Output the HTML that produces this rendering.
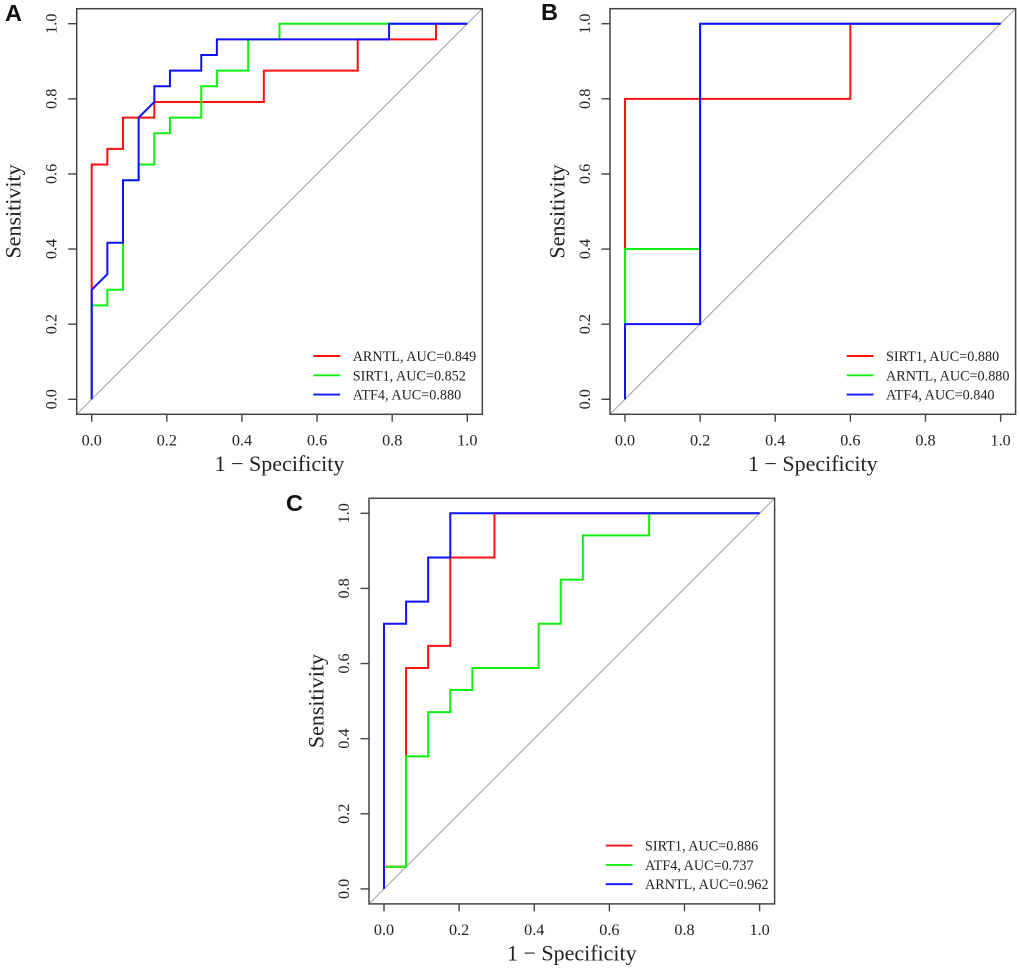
<!DOCTYPE html>
<html lang="en">
<head>
<meta charset="utf-8">
<title>ROC curves</title>
<style>
html,body{margin:0;padding:0;background:#fff;width:1020px;height:969px;overflow:hidden}
svg{display:block;position:absolute;left:0;top:0;filter:blur(0.35px)}
text{font-family:"Liberation Serif",serif;fill:#222}
.panel-letter{font-family:"Liberation Sans",sans-serif;font-weight:700;font-size:23.5px;fill:#111}
</style>
</head>
<body>
<svg id="fig" width="1020" height="969" viewBox="0 0 1020 969" xmlns="http://www.w3.org/2000/svg"></svg>
<script>
// ---- Tick labels ----
const tickValues = [0, 0.2, 0.4, 0.6, 0.8, 1];
const tickLabels = ["0.0", "0.2", "0.4", "0.6", "0.8", "1.0"];

// ---- Panel A ----
const aArntlFpr = [0,0,0.0417,0.0417,0.0833,0.0833,0.1667,0.1667,0.4583,0.4583,0.7083,0.7083,0.9167,0.9167,1];
const aArntlTpr = [0,0.625,0.625,0.6667,0.6667,0.75,0.75,0.7917,0.7917,0.875,0.875,0.9583,0.9583,1,1];
const aSirt1Fpr = [0,0,0.0417,0.0417,0.0833,0.0833,0.125,0.125,0.1667,0.1667,0.2083,0.2083,0.2917,0.2917,0.3333,0.3333,0.4167,0.4167,0.5,0.5,1];
const aSirt1Tpr = [0,0.25,0.25,0.2917,0.2917,0.5833,0.5833,0.625,0.625,0.7083,0.7083,0.75,0.75,0.8333,0.8333,0.875,0.875,0.9583,0.9583,1,1];
const aAtf4Fpr = [0,0,0.0417,0.0417,0.0833,0.0833,0.125,0.125,0.1667,0.1667,0.2083,0.2083,0.2917,0.2917,0.3333,0.3333,0.7917,0.7917,1];
const aAtf4Tpr = [0,0.2917,0.3333,0.4167,0.4167,0.5833,0.5833,0.75,0.7917,0.8333,0.8333,0.875,0.875,0.9167,0.9167,0.9583,0.9583,1,1];

// ---- Panel B ----
const bSirt1Fpr = [0,0,0.6,0.6,1];
const bSirt1Tpr = [0,0.8,0.8,1,1];
const bArntlFpr = [0,0,0.2,0.2,1];
const bArntlTpr = [0,0.4,0.4,1,1];
const bAtf4Fpr = [0,0,0.2,0.2,1];
const bAtf4Tpr = [0,0.2,0.2,1,1];

// ---- Panel C ----
const cSirt1Fpr = [0,0,0.0588,0.0588,0.1176,0.1176,0.1765,0.1765,0.2941,0.2941,1];
const cSirt1Tpr = [0,0.0588,0.0588,0.5882,0.5882,0.6471,0.6471,0.8824,0.8824,1,1];
const cAtf4Fpr = [0,0,0.0588,0.0588,0.1176,0.1176,0.1765,0.1765,0.2353,0.2353,0.4118,0.4118,0.4706,0.4706,0.5294,0.5294,0.7059,0.7059,1];
const cAtf4Tpr = [0,0.0588,0.0588,0.3529,0.3529,0.4706,0.4706,0.5294,0.5294,0.5882,0.5882,0.7059,0.7059,0.8235,0.8235,0.9412,0.9412,1,1];
const cArntlFpr = [0,0,0.0588,0.0588,0.1176,0.1176,0.1765,0.1765,1];
const cArntlTpr = [0,0.7059,0.7059,0.7647,0.7647,0.8824,0.8824,1,1];

const colors = ["#ff1010", "#10f010", "#1010ff"];
const NS = "http://www.w3.org/2000/svg";
const fig = document.getElementById("fig");

function make(parent, tag, attrs, txt) {
  const el = document.createElementNS(NS, tag);
  for (const k in attrs) el.setAttribute(k, attrs[k]);
  if (txt !== undefined) el.textContent = txt;
  parent.appendChild(el);
  return el;
}

function drawPanel(p) {
  const W = 405.6, H = 405.6, pad = 15;
  const span = W - 2 * pad;
  const sx = v => p.left + pad + v * span;
  const sy = v => p.top + H - pad - v * span;

  const g = make(fig, "g", {});
  
  

  const letter = make(g, "text", {x: p.letterX, y: p.letterY, "class": "panel-letter"}, p.id.toUpperCase());
  
  

  const diag = make(g, "line", {x1: p.left, y1: p.top + H, x2: p.left + W, y2: p.top, stroke: "#a0a0a0", "stroke-width": 1});
  
  

  p.series.forEach((s, i) => {
    const pts = s.fpr.map((f, j) => sx(f).toFixed(2) + "," + sy(s.tpr[j]).toFixed(2)).join(" ");
    const line = make(g, "polyline", {points: pts, fill: "none", stroke: colors[i], "stroke-width": 2, "stroke-linejoin": "miter"});
    
    
  });

  const box = make(g, "rect", {x: p.left, y: p.top, width: W, height: H, fill: "none", stroke: "#444", "stroke-width": 1.5});
  
  

  tickValues.forEach((v, i) => {
    const tx = make(g, "line", {x1: sx(v), x2: sx(v), y1: p.top + H, y2: p.top + H + 7.5, stroke: "#444", "stroke-width": 1.4});
    
    
    const lx = make(g, "text", {x: sx(v), y: p.top + H + 31, "text-anchor": "middle", "font-size": 16.2}, tickLabels[i]);
    
    
    const ty = make(g, "line", {x1: p.left - 8.5, x2: p.left, y1: sy(v), y2: sy(v), stroke: "#444", "stroke-width": 1.4});
    
    
    const yx = p.left - 20;
    const ly = make(g, "text", {x: yx, y: sy(v), "text-anchor": "middle", "font-size": 16.2, transform: "rotate(-90 " + yx + " " + sy(v) + ")"}, tickLabels[i]);
    
    
  });

  const xt = make(g, "text", {x: p.left + W / 2, y: p.top + H + 56.5, "text-anchor": "middle", "font-size": 22}, "1 \u2212 Specificity");
  
  
  const ytx = p.left - p.titleOff, yty = p.top + H / 2;
  const yt = make(g, "text", {x: ytx, y: yty, "text-anchor": "middle", "font-size": 22, transform: "rotate(-90 " + ytx + " " + yty + ")"}, "Sensitivity");
  
  

  p.series.forEach((s, i) => {
    const ly = p.top + H - 58.3 + i * 19.3;
    const ln = make(g, "line", {x1: p.left + 236.7, x2: p.left + 263.5, y1: ly, y2: ly, stroke: colors[i], "stroke-width": 1.9});
    
    
    const lt = make(g, "text", {x: p.left + 276, y: ly + 5, "font-size": 14.2}, s.name + ", AUC=" + s.auc);
    
    
  });
}

drawPanel({id: "a", left: 76.7, top: 8.7, letterX: 5, letterY: 21, titleOff: 56,
  series: [
    {name: "ARNTL", auc: "0.849", fpr: aArntlFpr, tpr: aArntlTpr},
    {name: "SIRT1", auc: "0.852", fpr: aSirt1Fpr, tpr: aSirt1Tpr},
    {name: "ATF4", auc: "0.880", fpr: aAtf4Fpr, tpr: aAtf4Tpr}
  ]});
drawPanel({id: "b", left: 610, top: 8.7, letterX: 541, letterY: 20, titleOff: 45.7,
  series: [
    {name: "SIRT1", auc: "0.880", fpr: bSirt1Fpr, tpr: bSirt1Tpr},
    {name: "ARNTL", auc: "0.880", fpr: bArntlFpr, tpr: bArntlTpr},
    {name: "ATF4", auc: "0.840", fpr: bAtf4Fpr, tpr: bAtf4Tpr}
  ]});
drawPanel({id: "c", left: 369, top: 498.3, letterX: 286, letterY: 511, titleOff: 45.7,
  series: [
    {name: "SIRT1", auc: "0.886", fpr: cSirt1Fpr, tpr: cSirt1Tpr},
    {name: "ATF4", auc: "0.737", fpr: cAtf4Fpr, tpr: cAtf4Tpr},
    {name: "ARNTL", auc: "0.962", fpr: cArntlFpr, tpr: cArntlTpr}
  ]});
</script>
</body>
</html>
